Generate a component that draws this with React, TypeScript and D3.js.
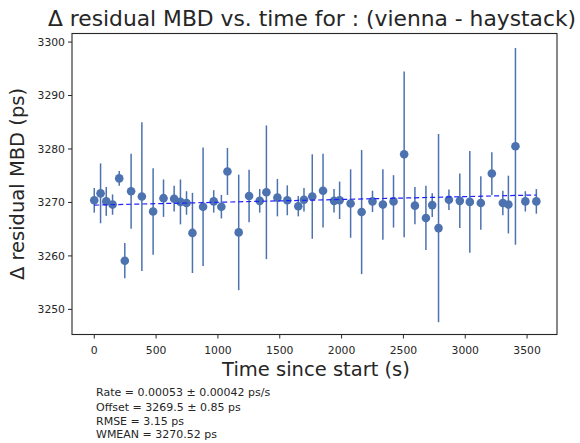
import React from 'react'
import * as d3 from 'd3'

// residual MBD points
const times = [0, 51, 97, 148, 202, 247, 298, 385, 476, 560, 646, 697, 746, 794, 880, 966, 1028, 1077, 1168, 1252, 1338, 1392, 1481, 1561, 1650, 1696, 1763, 1850, 1939, 1984, 2073, 2162, 2250, 2334, 2420, 2506, 2593, 2682, 2733, 2784, 2868, 2956, 3037, 3126, 3215, 3304, 3349, 3406, 3486, 3575]
const values = [3270.4, 3271.7, 3270.2, 3269.6, 3274.5, 3259.1, 3272.1, 3271.1, 3268.3, 3270.8, 3270.7, 3270.1, 3269.9, 3264.3, 3269.2, 3270.2, 3269.2, 3275.8, 3264.4, 3271.2, 3270.3, 3271.9, 3270.9, 3270.4, 3269.3, 3270.5, 3271.1, 3272.2, 3270.3, 3270.4, 3269.8, 3268.2, 3270.2, 3269.6, 3270.2, 3279.0, 3269.4, 3267.1, 3269.5, 3265.2, 3270.5, 3270.3, 3270.1, 3269.9, 3275.4, 3269.9, 3269.6, 3280.5, 3270.2, 3270.2]
const errors = [2.3, 5.6, 2.7, 1.9, 1.4, 3.3, 7.0, 13.9, 8.1, 3.5, 2.4, 4.2, 2.2, 7.5, 11.1, 2.1, 2.2, 4.4, 10.8, 4.9, 2.2, 12.5, 3.5, 2.8, 1.9, 2.2, 7.9, 6.9, 2.2, 3.5, 6.4, 11.6, 2.0, 6.6, 4.9, 15.5, 3.5, 6.0, 2.2, 17.6, 1.9, 5.1, 9.5, 5.0, 4.0, 2.3, 5.4, 18.4, 1.9, 2.3]

const rate = 0.00053
const offset = 3269.5
const xTicks = [0, 500, 1000, 1500, 2000, 2500, 3000, 3500]
const yTicks = [3250, 3260, 3270, 3280, 3290, 3300]
const statLines = [
  'Rate = 0.00053 \u00b1 0.00042 ps/s',
  'Offset = 3269.5 \u00b1 0.85 ps',
  'RMSE = 3.15 ps',
  'WMEAN = 3270.52 ps',
]

const W = 580
const H = 443
const left = 72, right = 557, top = 33.5, bottom = 334.5
const ink = '#262626'
const blue = '#4c72b0'
const font = 'DejaVu Sans, sans-serif'

export default function App() {
  const x = d3.scaleLinear().domain([-180, 3742]).range([left, right])
  const y = d3.scaleLinear().domain([3245.3, 3301.6]).range([bottom, top])
  const tStart = d3.min(times) as number
  const tEnd = d3.max(times) as number
  const fit = d3.line<number>()
    .x(t => x(t))
    .y(t => y(offset + rate * t))

  return (
    <svg width={W} height={H} style={{ position: 'absolute', left: 0, top: 0, background: '#fff' }} fontFamily={font}>
      <text x={312} y={26} textAnchor="middle" fontSize={21.8} fill={ink}>
        Δ residual MBD vs. time for : (vienna - haystack)
      </text>

      {/* error bars */}
      {times.map((t, i) => (
        <line key={'e' + i} x1={x(t)} x2={x(t)} y1={y(values[i] - errors[i])} y2={y(values[i] + errors[i])}
          stroke={blue} strokeWidth={1.5} />
      ))}
      {times.map((t, i) => (
        <circle key={'p' + i} cx={x(t)} cy={y(values[i])} r={4.3} fill={blue} />
      ))}
      <path d={fit([tStart, tEnd]) || ''} fill="none" stroke="#2020ff" strokeWidth={1.2} strokeDasharray="5,3" />

      <rect x={left} y={top} width={right - left} height={bottom - top} fill="none" stroke={ink} strokeWidth={1.1} />

      {xTicks.map(t => (
        <g key={'x' + t} transform={`translate(${x(t)},${bottom})`}>
          <line y2={4} stroke={ink} strokeWidth={1} />
          <text y={19} textAnchor="middle" fontSize={10.8} fill={ink}>{t}</text>
        </g>
      ))}
      {yTicks.map(v => (
        <g key={'y' + v} transform={`translate(${left},${y(v)})`}>
          <line x2={-4} stroke={ink} strokeWidth={1} />
          <text x={-7} dy="0.35em" textAnchor="end" fontSize={10.8} fill={ink}>{v}</text>
        </g>
      ))}

      <text x={316} y={376} textAnchor="middle" fontSize={19.5} fill={ink}>Time since start (s)</text>
      <text transform={`translate(24,${(top + bottom) / 2}) rotate(-90)`} textAnchor="middle" fontSize={19.5} fill={ink}>
        Δ residual MBD (ps)
      </text>

      {statLines.map((s, i) => (
        <text key={s} x={96} y={[396, 411, 425, 438][i]} fontSize={11} fill={ink}>{s}</text>
      ))}
    </svg>
  )
}
